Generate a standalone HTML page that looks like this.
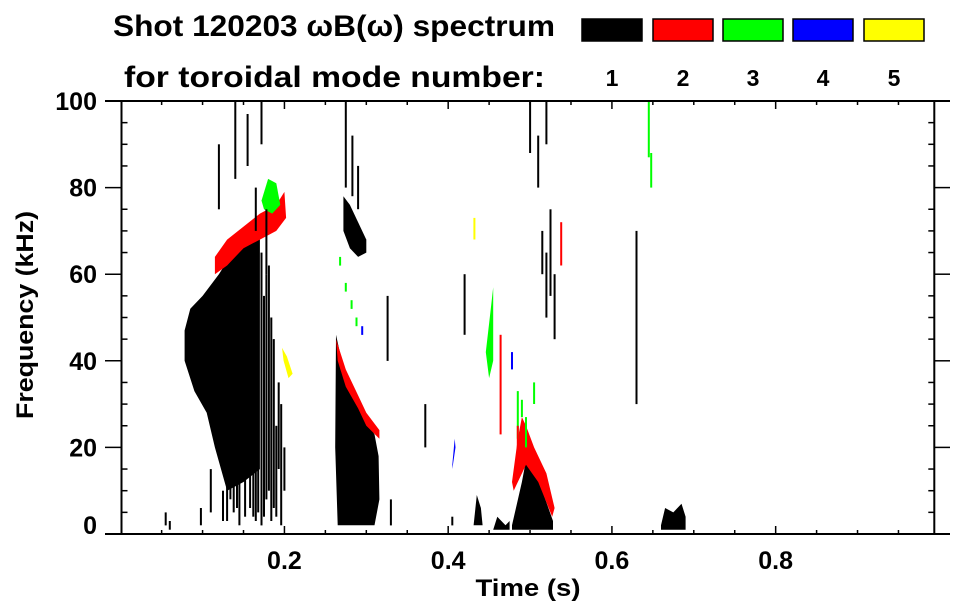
<!DOCTYPE html>
<html><head><meta charset="utf-8">
<style>
html,body{margin:0;padding:0;background:#fff;}
svg{display:block;font-family:"Liberation Sans",Arial,sans-serif;font-weight:bold;}
</style></head>
<body>
<svg id="chart" width="963" height="615" viewBox="0 0 963 615">
  <text x="113" y="36" font-size="30" textLength="442" lengthAdjust="spacingAndGlyphs">Shot 120203 ωB(ω) spectrum</text>
  <text x="124" y="87" font-size="30" textLength="421" lengthAdjust="spacingAndGlyphs">for toroidal mode number:</text>
  <g id="legend"></g>
  <g id="marks"></g>
  <g id="axes"></g>
  <text x="528" y="596" font-size="24" text-anchor="middle" textLength="105" lengthAdjust="spacingAndGlyphs">Time (s)</text>
  <text transform="translate(33,315) rotate(-90)" font-size="24" text-anchor="middle" textLength="208" lengthAdjust="spacingAndGlyphs">Frequency (kHz)</text>
</svg>
<script>
const modeColors = ["#000000","#ff0000","#00ff00","#0000ff","#ffff00"];
const modeLabels = ["1","2","3","4","5"];
const xTicks = [0.2,0.4,0.6,0.8];
const xTickLabels = ["0.2","0.4","0.6","0.8"];
const yTicks = [0,20,40,60,80,100];
const yTickLabels = ["0","20","40","60","80","100"];

// filled regions (time s, freq kHz)
const blobModes = [1,2,3,1,2,1,1,1,2,1,3,1,5,4];
const blobTimes = [
 [0.078,0.085,0.10,0.12,0.14,0.16,0.17,0.17,0.15,0.13,0.115,0.105,0.09,0.078],
 [0.115,0.13,0.15,0.17,0.19,0.20,0.202,0.19,0.17,0.15,0.13,0.115],
 [0.172,0.18,0.19,0.195,0.185,0.175],
 [0.263,0.27,0.28,0.29,0.30,0.31,0.315,0.316,0.31,0.265,0.262],
 [0.263,0.275,0.29,0.30,0.316,0.316,0.30,0.29,0.275,0.265],
 [0.272,0.28,0.29,0.30,0.30,0.29,0.28,0.272],
 [0.478,0.49,0.497,0.505,0.515,0.528,0.528,0.478],
 [0.431,0.435,0.44,0.442],
 [0.478,0.485,0.49,0.495,0.505,0.52,0.53,0.527,0.51,0.495,0.48],
 [0.66,0.665,0.675,0.685,0.69,0.69,0.66],
 [0.446,0.452,0.455,0.455,0.45],
 [0.455,0.46,0.47,0.475,0.475,0.455],
 [0.197,0.203,0.21,0.205,0.199],
 [0.405,0.408,0.409,0.405]
];
const blobFreqs = [
 [47,52,55,60,66,69,68,15,12,10,20,28,33,40],
 [64,68,71,74,76,79,73,70,68,66,62,60],
 [77,82,81,76,74,75],
 [46,40,35,30,26,23,18,8,2,2,20],
 [45,38,32,28,24,22,25,29,34,40],
 [78,76,72,68,65,64,66,70],
 [2,12,19,16,10,3,1,1],
 [2,9,6,2],
 [12,22,27,25,20,14,6,4,12,16,10],
 [2,6,5,7,4,1,1],
 [42,52,57,40,36],
 [1,4,2,3,1,1],
 [43,41,37,36,40],
 [16,22,20,15]
];
// streaks (time, low freq, high freq, mode)
const streakTimes = [0.13,0.138,0.145,0.152,0.158,0.165,0.172,0.178,0.184,0.19,0.196,0.2,0.12,0.14,0.155,0.165,0.172,0.178,0.11,0.125,0.098,
 0.275,0.283,0.29,0.268,0.275,0.282,0.288,0.295,
 0.464,0.478,0.485,0.49,0.495,0.5,0.51,0.515,0.52,0.525,0.53,0.52,0.505,
 0.630,0.645,0.648,0.432,0.538,0.055,0.06,0.405,0.42,0.372,0.33,0.326,0.485,0.495,
 0.168,0.175,0.181,0.187,0.193,0.162,0.142,0.134];
const streakLow = [3,5,2,4,6,3,2,8,3,4,2,10,75,82,85,70,90,60,5,3,2,
 80,78,75,62,56,52,48,46,
 23,38,22,27,20,88,80,60,50,55,45,90,30,
 30,87,80,68,62,2,1,2,46,20,2,40,15,5,
 5,4,10,6,15,4,6,8];
const streakHigh = [20,25,30,40,35,45,65,60,50,25,30,20,90,100,97,80,100,75,15,10,6,
 100,92,85,64,58,54,50,48,
 46,42,33,31,27,100,92,70,65,75,60,100,35,
 70,100,88,73,72,5,3,4,60,30,8,55,25,12,
 60,55,62,45,35,50,40,45];
const streakModes = [1,1,1,1,1,1,1,1,1,1,1,1,1,1,1,1,1,1,1,1,1,
 1,1,1,3,3,3,3,4,
 2,4,3,3,3,1,1,1,1,1,1,1,3,
 1,3,3,5,2,1,1,1,1,1,1,1,2,1,
 1,1,1,1,1,1,1,1];

const X0=120.7, XS=818.7, Y0=534, YS=4.33;
const xs = t => X0 + t*XS;
const ys = f => Y0 - f*YS;
const NS="http://www.w3.org/2000/svg";
const marks=document.getElementById('marks');
const axes=document.getElementById('axes');
const legend=document.getElementById('legend');

blobModes.forEach((m,i)=>{
  const p=document.createElementNS(NS,'polygon');
  p.setAttribute('points', blobTimes[i].map((t,j)=>xs(t).toFixed(1)+','+ys(blobFreqs[i][j]).toFixed(1)).join(' '));
  p.setAttribute('fill', modeColors[m-1]);
  
  
  marks.appendChild(p);
});
streakTimes.forEach((t,i)=>{
  const r=document.createElementNS(NS,'rect');
  const m=streakModes[i];
  r.setAttribute('x', (xs(t)-1).toFixed(1));
  r.setAttribute('y', ys(streakHigh[i]).toFixed(1));
  r.setAttribute('width', 2);
  r.setAttribute('height', Math.max(2,(streakHigh[i]-streakLow[i])*YS).toFixed(1));
  r.setAttribute('fill', modeColors[m-1]);
  
  
  marks.appendChild(r);
});

function line(x1,y1,x2,y2,w,name){
  const l=document.createElementNS(NS,'line');
  l.setAttribute('x1',x1);l.setAttribute('y1',y1);l.setAttribute('x2',x2);l.setAttribute('y2',y2);
  l.setAttribute('stroke','#000');l.setAttribute('stroke-width',w||1.5);
  
  
  axes.appendChild(l);
}
const L=121.5,R=934.3,T=101,B=534;
line(105,B,950,B,2,'x-axis-line');
line(105,T,950,T,2,'top-axis-line');
line(L,T,L,B,2,'y-axis-line');
line(R,T,R,B,2,'right-axis-line');
for(let k=1;k<20;k++){
  const x=xs(k*0.05); const major=(k%4===0);
  line(x,B,x,B-(major?8:4),1.5,'x-tick');
  line(x,T,x,T+(major?8:4),1.5,'x-tick-top');
}
for(let k=1;k<20;k++){
  const y=ys(k*5); const major=(k%4===0);
  if(major){ line(105,y,L,y,1.5,'y-tick'); line(R,y,950,y,1.5,'y-tick-right'); }
  else { line(L,y,L+6,y,1.5,'y-minor-tick'); line(R-6,y,R,y,1.5,'y-minor-tick-right'); }
}
xTicks.forEach((v,i)=>{
  const t=document.createElementNS(NS,'text');
  t.setAttribute('x',xs(v));t.setAttribute('y',569);t.setAttribute('font-size',25);t.setAttribute('text-anchor','middle');
  t.textContent=xTickLabels[i];
  
  
  axes.appendChild(t);
});
yTicks.forEach((v,i)=>{
  const t=document.createElementNS(NS,'text');
  t.setAttribute('x',97);t.setAttribute('y',Math.min(ys(v)+9,534));t.setAttribute('font-size',25);t.setAttribute('text-anchor','end');
  t.textContent=yTickLabels[i];
  
  
  axes.appendChild(t);
});
const legendX=[582,653,723,793,864];
modeColors.forEach((c,i)=>{
  const r=document.createElementNS(NS,'rect');
  r.setAttribute('x',legendX[i]);r.setAttribute('y',19);r.setAttribute('width',60);r.setAttribute('height',22);
  r.setAttribute('fill',c);r.setAttribute('stroke','#000');r.setAttribute('stroke-width',1.5);
  
  
  legend.appendChild(r);
  const t=document.createElementNS(NS,'text');
  t.setAttribute('x',legendX[i]+30);t.setAttribute('y',86);t.setAttribute('font-size',23);t.setAttribute('text-anchor','middle');
  t.textContent=modeLabels[i];
  
  
  legend.appendChild(t);
});
</script>
</body></html>
